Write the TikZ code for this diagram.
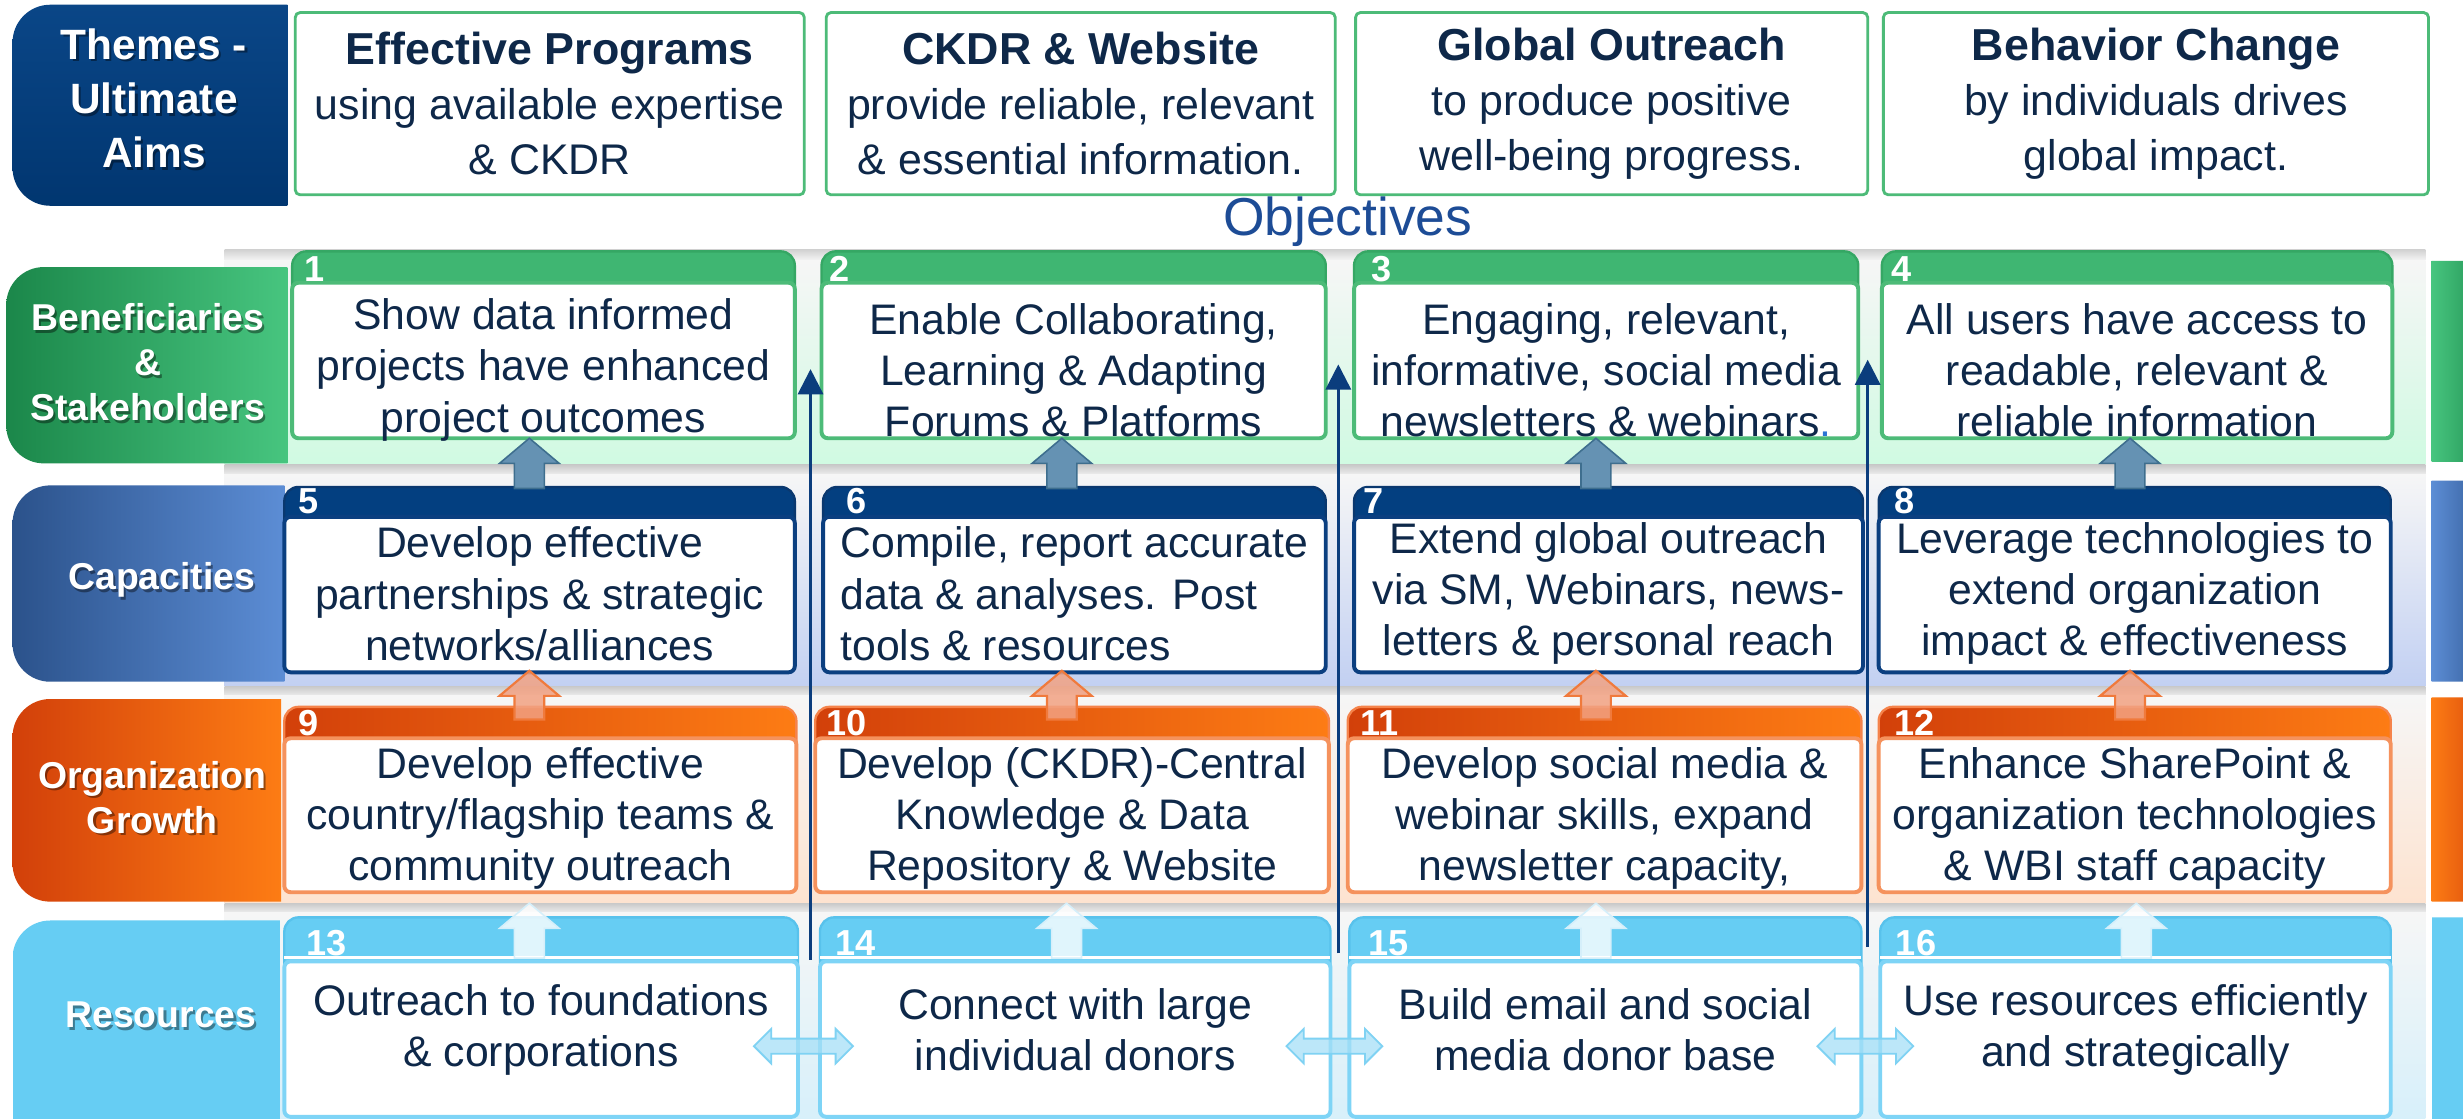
\documentclass[tikz,border=0pt]{standalone}
\usepackage{fontspec}
\setmainfont{Liberation Sans}
\usetikzlibrary{calc,arrows.meta}

% palette
\definecolor{ink}{HTML}{0E2849}
\definecolor{navyTop}{HTML}{0A4687}
\definecolor{navyBot}{HTML}{013670}
\definecolor{objblue}{HTML}{1D4C96}
\definecolor{dotblue}{HTML}{2B74D4}
\definecolor{linkblue}{HTML}{0B3D7D}
\definecolor{gDark}{HTML}{1B874A}
\definecolor{gLight}{HTML}{47C57F}
\definecolor{gTab}{HTML}{3FB672}
\definecolor{gTabLine}{HTML}{35A764}
\definecolor{gLine}{HTML}{4DBB78}
\definecolor{gBand}{HTML}{D0FAE2}
\definecolor{bDark}{HTML}{2B528B}
\definecolor{bLight}{HTML}{5C8DD5}
\definecolor{bTab}{HTML}{033F80}
\definecolor{bTabLine}{HTML}{0A386F}
\definecolor{bLine}{HTML}{0B3F80}
\definecolor{bBand}{HTML}{C2D0F2}
\definecolor{oDark}{HTML}{D2400A}
\definecolor{oLight}{HTML}{FD7C14}
\definecolor{oTabLine}{HTML}{F5834A}
\definecolor{oLine}{HTML}{F5925D}
\definecolor{oBand}{HTML}{FDE3D0}
\definecolor{cTab}{HTML}{66CDF3}
\definecolor{cTabLine}{HTML}{58C2EC}
\definecolor{cLine}{HTML}{7ED4F6}
\definecolor{cBand}{HTML}{D3EFFB}
\definecolor{arrBlue}{HTML}{6592B3}
\definecolor{arrBlueLine}{HTML}{3E6E8E}
\definecolor{arrOrange}{HTML}{F2A283}
\definecolor{arrOrangeLine}{HTML}{F07A3C}
\definecolor{arrWhiteLine}{HTML}{D5EFFA}
\definecolor{lrFill}{HTML}{A6E0F7}
\definecolor{lrLine}{HTML}{7FD2F3}

\tikzset{
  every node/.style={inner sep=0pt, outer sep=0pt},
  themebox/.style={draw=gLine, line width=1.8pt, fill=white, rounded corners=3pt,
    align=center, text=ink, font=\fontsize{27.3}{35}\selectfont},
  body/.style={draw=#1, fill=white, line width=2.5pt, rounded corners=4pt},
  ctext/.style={align=center, text=ink, font=\fontsize{27.2}{32.5}\selectfont},
  tabG/.style={fill=gTab, draw=gTabLine, line width=1.5pt, rounded corners=9pt},
  tabB/.style={fill=bTab, draw=bTabLine, line width=1.5pt, rounded corners=9pt},
  tabO/.style={left color=oDark, right color=oLight, draw=oTabLine, line width=1.5pt, rounded corners=9pt},
  tabC/.style={fill=cTab, draw=cTabLine, line width=1.5pt, rounded corners=9pt},
  num/.style={anchor=base west, text=white, font=\bfseries\fontsize{23}{23}\selectfont},
  lab/.style={align=center, text=white},
  link/.style={draw=linkblue, line width=1.7pt, -{Triangle[width=16pt,length=16pt]}},
  upblue/.style={fill=arrBlue, draw=arrBlueLine, line width=1pt},
  uporange/.style={fill=arrOrange, fill opacity=0.85, draw=arrOrangeLine, line width=1.4pt},
  upwhite/.style={fill=white, fill opacity=0.8, draw=arrWhiteLine, line width=1pt},
  lr/.style={fill=lrFill, fill opacity=0.75, draw=lrLine, line width=1.2pt},
}

% row band: soft vertical tint with a grey strip underneath
\newcommand\band[3]{%
  \shade[top color=gray!7, middle color=white!85!#3, bottom color=#3] (143,#1) rectangle (1544,#2);
  \shade[top color=gray!42, bottom color=gray!14] (143,#2) rectangle (1544,#2+6);}
% box with rounded left corners only
\newcommand\leftcap[5]{\begin{scope}\clip[rounded corners=24pt] (#1,#2) rectangle (#3+40,#4);
  \path[#5] (#1,#2) rectangle (#3,#4);\end{scope}}
% box with rounded right corners only
\newcommand\rightcap[5]{\begin{scope}\clip[rounded corners=22pt] (#1-40,#2) rectangle (#3,#4);
  \path[#5] (#1,#2) rectangle (#3,#4);\end{scope}}
% white bold label with a soft drop shadow
\newcommand\shadowed[5]{%
  \node[lab, text=black, opacity=0.4, font=#4] (#1s) at (#2+1.4,#3+1.8) {#5};
  \node[lab, font=#4] (#1) at (#2,#3) {#5};}
% upward block arrow from a base point to a tip point
\newcommand\blockup[3]{%
  \path[#1] let \p1=#2, \p2=#3 in
    (\x1-9.5pt,\y1) -- (\x1-9.5pt,\y2-16pt) -- (\x1-19pt,\y2-16pt) -- (\x1,\y2)
    -- (\x1+19pt,\y2-16pt) -- (\x1+9.5pt,\y2-16pt) -- (\x1+9.5pt,\y1) -- cycle;}
% horizontal double-headed block arrow between two tips
\newcommand\lrarrow[3]{%
  \path[#1] let \p1=#2, \p2=#3 in
    (\x1,\y1) -- (\x1+11pt,\y1+11pt) -- (\x1+11pt,\y1+4.8pt) -- (\x2-11pt,\y1+4.8pt)
    -- (\x2-11pt,\y1+11pt) -- (\x2,\y1) -- (\x2-11pt,\y1-11pt) -- (\x2-11pt,\y1-4.8pt)
    -- (\x1+11pt,\y1-4.8pt) -- (\x1+11pt,\y1-11pt) -- cycle;}
% thin white gap between a resource tab and its card
\newcommand\tabgap[1]{\fill[white] ($(#1.north west)+(0,-3.4)$) rectangle ($(#1.north east)+(0,-1.2)$);}

\begin{document}
\begin{tikzpicture}[x=1pt,y=-1pt]
\clip (0,0) rectangle (1568,712);
\fill[white] (0,0) rectangle (1568,712);

% ---- row bands
\shade[top color=gray!35, bottom color=gray!7] (143,159) rectangle (1544,166);
\band{166}{296}{gBand}
\band{302}{437}{bBand}
\band{443}{575}{oBand}
\band{581}{730}{cBand}

% ---- row labels, left and right
\leftcap{8}{3}{183}{131}{top color=navyTop, bottom color=navyBot}
\leftcap{4}{170}{183}{295}{left color=gDark, right color=gLight}
\leftcap{8}{309}{181}{434}{left color=bDark, right color=bLight}
\leftcap{8}{445}{179}{574}{left color=oDark, right color=oLight}
\leftcap{8}{586}{178}{760}{fill=cTab}
\rightcap{1548}{166}{1590}{294}{left color=gLight, right color=gDark}
\rightcap{1548}{306}{1590}{434}{left color=bLight, right color=bDark}
\rightcap{1548}{444}{1590}{574}{left color=oLight, right color=oDark}
\rightcap{1548}{584}{1590}{760}{fill=cTab}

\shadowed{themes}{98}{62.5}{\bfseries\fontsize{27}{34.5}\selectfont}{Themes -\\Ultimate\\Aims}
\shadowed{lben}{94}{230.5}{\bfseries\fontsize{23.8}{28.6}\selectfont}{Beneficiaries\\\&\\Stakeholders}
\shadowed{lcap}{103}{369}{\bfseries\fontsize{23.8}{28.6}\selectfont}{Capacities}
\shadowed{lorg}{97}{507.5}{\bfseries\fontsize{23.8}{28.6}\selectfont}{Organization\\Growth}
\shadowed{lres}{102.5}{646}{\bfseries\fontsize{23.8}{28.6}\selectfont}{Resources}

% ---- ultimate aims
\node[themebox, minimum width=324, minimum height=116] (a1) at (350,66)
  {{\bfseries\fontsize{28.5}{35}\selectfont Effective Programs}\\using available expertise\\\& CKDR};
\node[themebox, minimum width=324, minimum height=116] (a2) at (688,66)
  {{\bfseries\fontsize{28.5}{35}\selectfont CKDR \& Website}\\provide reliable, relevant\\\& essential information.};
\node[themebox, minimum width=326, minimum height=116] (a3) at (1026,66)
  {{\bfseries\fontsize{28.5}{35}\selectfont Global Outreach}\\to produce positive\\well-being progress.};
\node[themebox, minimum width=347, minimum height=116] (a4) at (1372.5,66)
  {{\bfseries\fontsize{28.5}{35}\selectfont Behavior Change}\\by individuals drives\\global impact.};
\node[text=objblue, font=\fontsize{34}{34}\selectfont] (objt) at (858,141) {Objectives};

% ---- objective cards: tabs
\node[tabG, minimum width=320, minimum height=32] (t1) at (346,176) {};
\node[tabG, minimum width=321, minimum height=32] (t2) at (683.5,176) {};
\node[tabG, minimum width=321, minimum height=32] (t3) at (1022.5,176) {};
\node[tabG, minimum width=325, minimum height=32] (t4) at (1360.5,176) {};
\node[tabB, minimum width=325, minimum height=31] (t5) at (343.5,325.5) {};
\node[tabB, minimum width=320, minimum height=31] (t6) at (684,325.5) {};
\node[tabB, minimum width=324, minimum height=31] (t7) at (1024,325.5) {};
\node[tabB, minimum width=326, minimum height=31] (t8) at (1359,325.5) {};
\node[tabO, minimum width=326, minimum height=32] (t9) at (344,466) {};
\node[tabO, minimum width=327, minimum height=32] (t10) at (682.5,466) {};
\node[tabO, minimum width=327, minimum height=32] (t11) at (1021.5,466) {};
\node[tabO, minimum width=326, minimum height=32] (t12) at (1359,466) {};
\node[tabC, minimum width=327, minimum height=38] (t13) at (344.5,603) {};
\node[tabC, minimum width=325, minimum height=38] (t14) at (684.5,603) {};
\node[tabC, minimum width=326, minimum height=38] (t15) at (1022,603) {};
\node[tabC, minimum width=325, minimum height=38] (t16) at (1359.5,603) {};

% ---- objective cards: bodies
\node[body=gLine, minimum width=320, minimum height=99] (o1) at (346,229.5) {};
\node[body=gLine, minimum width=321, minimum height=99] (o2) at (683.5,229.5) {};
\node[body=gLine, minimum width=321, minimum height=99] (o3) at (1022.5,229.5) {};
\node[body=gLine, minimum width=325, minimum height=99] (o4) at (1360.5,229.5) {};
\node[body=bLine, minimum width=325, minimum height=99] (o5) at (343.5,378.5) {};
\node[body=bLine, minimum width=320, minimum height=99] (o6) at (684,378.5) {};
\node[body=bLine, minimum width=324, minimum height=99] (o7) at (1024,378.5) {};
\node[body=bLine, minimum width=326, minimum height=99] (o8) at (1359,378.5) {};
\node[body=oLine, minimum width=326, minimum height=98] (o9) at (344,519) {};
\node[body=oLine, minimum width=327, minimum height=98] (o10) at (682.5,519) {};
\node[body=oLine, minimum width=327, minimum height=98] (o11) at (1021.5,519) {};
\node[body=oLine, minimum width=326, minimum height=98] (o12) at (1359,519) {};
\node[body=cLine, minimum width=327, minimum height=99] (o13) at (344.5,661.5) {};
\node[body=cLine, minimum width=325, minimum height=99] (o14) at (684.5,661.5) {};
\node[body=cLine, minimum width=326, minimum height=99] (o15) at (1022,661.5) {};
\node[body=cLine, minimum width=325, minimum height=99] (o16) at (1359.5,661.5) {};
\tabgap{o13}\tabgap{o14}\tabgap{o15}\tabgap{o16}

% ---- card numbers
\node[num] (n1) at ($(o1.north west)+(8,-1)$) {1};
\node[num] (n2) at ($(o2.north west)+(5,-1)$) {2};
\node[num] (n3) at ($(o3.north west)+(11,-1)$) {3};
\node[num] (n4) at ($(o4.north west)+(6,-1)$) {4};
\node[num] (n5) at ($(o5.north west)+(9,-2)$) {5};
\node[num] (n6) at ($(o6.north west)+(15,-2)$) {6};
\node[num] (n7) at ($(o7.north west)+(6,-2)$) {7};
\node[num] (n8) at ($(o8.north west)+(10,-2)$) {8};
\node[num] (n9) at ($(o9.north west)+(9,-2)$) {9};
\node[num] (n10) at ($(o10.north west)+(7,-2)$) {10};
\node[num] (n11) at ($(o11.north west)+(8,-2)$) {11};
\node[num] (n12) at ($(o12.north west)+(10,-2)$) {12};
\node[num] (n13) at ($(o13.north west)+(14,-4)$) {13};
\node[num] (n14) at ($(o14.north west)+(10,-4)$) {14};
\node[num] (n15) at ($(o15.north west)+(12,-4)$) {15};
\node[num] (n16) at ($(o16.north west)+(10,-4)$) {16};

% ---- card texts
\node[ctext] (o1t) at ($(o1)+(0,6)$) {Show data informed\\projects have enhanced\\project outcomes};
\node[ctext] (o2t) at ($(o2)+(0,6)$) {Enable Collaborating,\\Learning \& Adapting\\Forums \& Platforms};
\node[ctext] (o3t) at ($(o3)+(0,6)$) {Engaging, relevant,\\informative, social media\\newsletters \& webinars{\color{dotblue}.}};
\node[ctext] (o4t) at ($(o4)+(0,6)$) {All users have access to\\readable, relevant \&\\reliable information};
\node[ctext] (o5t) at ($(o5)+(0,-0.5)$) {Develop effective\\partnerships \& strategic\\networks/alliances};
\node[ctext, align=left] (o6t) at ($(o6)+(0,-0.5)$) {Compile, report accurate\\data \& analyses. Post\\tools \& resources};
\node[ctext] (o7t) at ($(o7)+(0,-0.5)$) {Extend global outreach\\via SM, Webinars, news-\\letters \& personal reach};
\node[ctext] (o8t) at ($(o8)+(0,-0.5)$) {Leverage technologies to\\extend organization\\impact \& effectiveness};
\node[ctext] (o9t) at ($(o9)+(0,2)$) {Develop effective\\country/flagship teams \&\\community outreach};
\node[ctext] (o10t) at ($(o10)+(0,2)$) {Develop (CKDR)-Central\\Knowledge \& Data\\Repository \& Website};
\node[ctext] (o11t) at ($(o11)+(0,2)$) {Develop social media \&\\webinar skills, expand\\newsletter capacity,};
\node[ctext] (o12t) at ($(o12)+(0,2)$) {Enhance SharePoint \&\\organization technologies\\\& WBI staff capacity};
\node[ctext] (o13t) at ($(o13)+(0,-6)$) {Outreach to foundations\\\& corporations};
\node[ctext] (o14t) at ($(o14)+(0,-6)$) {Connect with large\\individual donors};
\node[ctext] (o15t) at ($(o15)+(0,-6)$) {Build email and social\\media donor base};
\node[ctext] (o16t) at ($(o16)+(0,-6)$) {Use resources efficiently\\and strategically};

% ---- block arrows between rows
\blockup{upblue}{($(t5.north)+(-6.5,1)$)}{($(o1.south)+(0,0)$)}
\blockup{upblue}{($(t6.north)+(-8,1)$)}{($(o2.south)+(0,0)$)}
\blockup{upblue}{($(t7.north)+(-8,1)$)}{($(o3.south)+(0,0)$)}
\blockup{upblue}{($(t8.north)+(-3,1)$)}{($(o4.south)+(0,0)$)}
\blockup{uporange}{($(t9.north)+(-7,8)$)}{($(o5.south)+(0,-1)$)}
\blockup{uporange}{($(t10.north)+(-6.5,8)$)}{($(o6.south)+(0,-1)$)}
\blockup{uporange}{($(t11.north)+(-5.5,8)$)}{($(o7.south)+(0,-1)$)}
\blockup{uporange}{($(t12.north)+(-3,8)$)}{($(o8.south)+(0,-1)$)}
\blockup{upwhite}{($(o13.north)+(-7.5,-2)$)}{($(o9.south)+(0,7)$)}
\blockup{upwhite}{($(o14.north)+(-5.5,-2)$)}{($(o10.south)+(0,7)$)}
\blockup{upwhite}{($(o15.north)+(-6,-2)$)}{($(o11.south)+(0,7)$)}
\blockup{upwhite}{($(o16.north)+(0.5,-2)$)}{($(o12.south)+(0,7)$)}

% ---- links between resource cards
\lrarrow{lr}{($(o13.east)+(-28,4.5)$)}{($(o14.west)+(21,4.5)$)}
\lrarrow{lr}{($(o14.east)+(-28,4.5)$)}{($(o15.west)+(21,4.5)$)}
\lrarrow{lr}{($(o15.east)+(-28,4.5)$)}{($(o16.west)+(21,4.5)$)}

% ---- long upward links from resources to beneficiaries
\coordinate (v1a) at (516,611);  \coordinate (v1b) at (516,235);
\coordinate (v2a) at (852,607);  \coordinate (v2b) at (852,232);
\coordinate (v3a) at (1189,603); \coordinate (v3b) at (1189,229);
\draw[link] (v1a) -- (v1b);
\draw[link] (v2a) -- (v2b);
\draw[link] (v3a) -- (v3b);
\end{tikzpicture}
\end{document}
